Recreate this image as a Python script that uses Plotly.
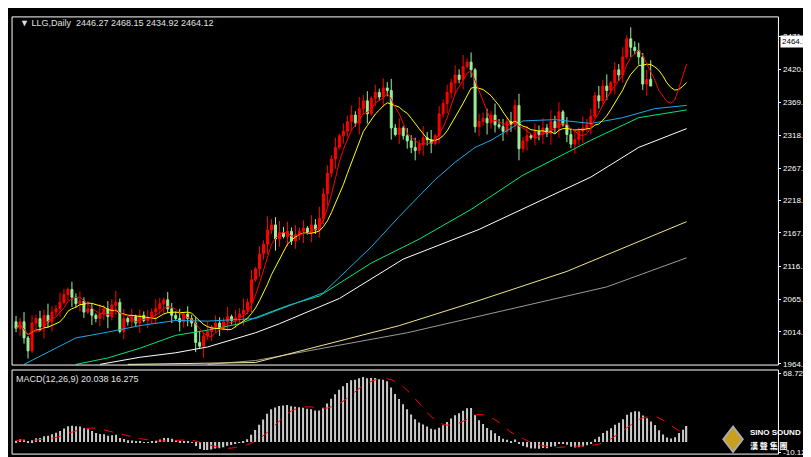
import plotly.graph_objects as go
import pandas as pd

closes = [2020,2030,2005,1985,2028, 2035,2022,2040,2030,2045, 2050,2060,2072,2080,2068,
          2058,2062,2045,2050,2040, 2035,2042,2050,2038,2056, 2060,2015,2035,2030,2038,
          2028,2040,2032,2036,2045, 2050,2058,2064,2050,2040, 2035,2030,2042,2035,2028,
          1998,1992,2008,2015,2022, 2028,2020,2030,2038,2032, 2036,2042,2048,2060,2095,
          2112,2135,2150,2172,2180, 2158,2168,2162,2170,2155, 2165,2170,2175,2168,2180,
          2172,2190,2228,2260,2282, 2300,2318,2325,2340,2350, 2338,2360,2372,2352,2376,
          2385,2378,2392,2388,2330, 2320,2330,2318,2310,2300, 2295,2305,2315,2312,2306,
          2318,2352,2368,2385,2400, 2412,2405,2425,2432,2420, 2332,2340,2345,2338,2350,
          2335,2332,2325,2340,2336, 2365,2298,2310,2318,2315, 2325,2320,2330,2322,2340,
          2330,2355,2335,2320,2305, 2312,2325,2330,2335,2348, 2380,2372,2395,2388,2400,
          2420,2412,2440,2468,2455, 2450,2440,2398,2405,2395, 2385,2360,2355,2362,2380,
          2408,2448,2446.27,2464.12]
first_open = 2030
wick_up = "3251424363253142524315243625141324253143251423625143251436251427346352524153634251435263514253625143526351424253625143526342536251435263514352634253614352634251635"
wick_dn = "2434152635241352431524362514232514363524153425162534152436251435264152436152436251435263514253615243526351425362514352634152436251435263514253625143526341524369"

ma30_x = [2, 15, 23, 31, 40, 48, 60, 77, 89, 96, 105, 110, 115, 119, 127, 135, 144, 152, 160, 168]
ma30_y = [1964, 2005, 2014, 2024, 2032, 2031, 2035, 2075, 2146, 2193, 2250, 2277, 2300, 2311, 2341, 2343, 2337, 2346, 2360, 2365]
ma60_x = [15, 23, 31, 40, 48, 56, 68, 76, 89, 101, 114, 127, 144, 156, 168]
ma60_y = [1964, 1974, 1989, 2009, 2017, 2027, 2055, 2070, 2121, 2158, 2204, 2257, 2311, 2346, 2358]
ma120_x = [21, 31, 40, 48, 60, 66, 81, 97, 116, 144, 156, 168]
ma120_y = [1964, 1975, 1982, 1991, 2013, 2027, 2066, 2127, 2173, 2254, 2300, 2329]
ma200_x = [28, 60, 96, 116, 138, 168]
ma200_y = [1964, 1967, 2024, 2063, 2108, 2185]
ma250_x = [48, 60, 98, 123, 148, 168]
ma250_y = [1964, 1970, 2013, 2049, 2084, 2129]

ytick_vals = [2471.70, 2420.70, 2369.70, 2318.70, 2267.70, 2218.20, 2167.70, 2116.20, 2065.20, 2014.20, 1964.70]

n = len(closes)
idx = list(range(n))
opens = [first_open] + closes[:-1]
opens[-1] = 2446.27
highs = [max(o, c) + int(w) * 3 for o, c, w in zip(opens, closes, wick_up[:n])]
lows = [min(o, c) - int(w) * 3 for o, c, w in zip(opens, closes, wick_dn[:n])]
highs[-1] = 2468.15
lows[-1] = 2434.92

s = pd.Series(closes, dtype=float)
ma5 = s.rolling(5, min_periods=1).mean()
ma10 = s.rolling(10, min_periods=1).mean()
ext = pd.Series([closes[0] - 15] * 30 + closes, dtype=float)
macd = (ext.ewm(span=12, adjust=False).mean() - ext.ewm(span=26, adjust=False).mean()).iloc[30:].reset_index(drop=True)
sig = macd.rolling(9, min_periods=1).mean()

fig = go.Figure()
for xs, ys, col in [(ma250_x, ma250_y, "#9a9a9a"), (ma200_x, ma200_y, "#f0e68c"),
                    (ma120_x, ma120_y, "#ffffff"), (ma60_x, ma60_y, "#00e676"),
                    (ma30_x, ma30_y, "#1fa8e8")]:
    fig.add_trace(go.Scatter(x=xs, y=ys, mode="lines", line=dict(color=col, width=1), hoverinfo="skip"))
fig.add_trace(go.Candlestick(x=idx, open=opens, high=highs, low=lows, close=closes,
                             increasing=dict(line=dict(color="#ff0000", width=1), fillcolor="#ff0000"),
                             decreasing=dict(line=dict(color="#98f098", width=1), fillcolor="#98f098"),
                             whiskerwidth=0))
fig.add_trace(go.Scatter(x=idx, y=ma10, mode="lines", line=dict(color="#ffff00", width=1)))
fig.add_trace(go.Scatter(x=idx, y=ma5, mode="lines", line=dict(color="#ff0000", width=1)))

fig.add_trace(go.Bar(x=idx, y=macd, marker=dict(color="#c8c8c8", line=dict(width=0)), width=0.3,
                     xaxis="x2", yaxis="y2"))
fig.add_trace(go.Scatter(x=idx, y=sig, mode="lines", line=dict(color="#ff0000", width=1, dash="dash"),
                         xaxis="x2", yaxis="y2"))

xr = [-1, 191]
tf = dict(size=8, color="white", family="Liberation Sans")
fig.update_layout(
    width=811, height=457, margin=dict(l=0, r=0, t=0, b=0),
    paper_bgcolor="black", plot_bgcolor="black", showlegend=False,
    font=dict(family="Liberation Sans", size=9, color="white"),
    xaxis=dict(domain=[0.005, 0.95], range=xr, showgrid=False, showticklabels=False, zeroline=False,
               rangeslider=dict(visible=False), anchor="y"),
    yaxis=dict(domain=[0.2123, 0.9825], range=[1963, 2502], side="right", tickvals=ytick_vals,
               ticktext=[f"{v:.2f}" for v in ytick_vals], showgrid=False, zeroline=False,
               ticks="outside", ticklen=2, tickcolor="white", tickfont=tf),
    xaxis2=dict(domain=[0.005, 0.95], range=xr, showgrid=False, showticklabels=False, zeroline=False,
                anchor="y2"),
    yaxis2=dict(domain=[0.0153, 0.2013], range=[-12, 72], side="right", tickvals=[68.723, -10.124],
                ticktext=["68.723", "-10.124"], showgrid=False, zeroline=False, ticks="outside", ticklen=2,
                tickcolor="white", tickfont=tf, anchor="x2"),
    shapes=[
        dict(type="rect", xref="paper", yref="paper", x0=0.005, x1=0.95, y0=0.2123, y1=0.9825,
             line=dict(color="white", width=1)),
        dict(type="rect", xref="paper", yref="paper", x0=0.005, x1=0.95, y0=0.0153, y1=0.2013,
             line=dict(color="white", width=1)),
        dict(type="path", xref="paper", yref="paper",
             path="M 0.882 0.048 L 0.894 0.076 L 0.906 0.048 L 0.894 0.02 Z",
             fillcolor="#c8a020", line=dict(color="#aaaaaa", width=2)),
    ],
    annotations=[
        dict(xref="paper", yref="paper", x=0.012, y=0.985, xanchor="left", yanchor="top", showarrow=False,
             text="▼ LLG,Daily  2446.27 2468.15 2434.92 2464.12", font=dict(size=9, color="#e0e0e0")),
        dict(xref="paper", yref="paper", x=0.008, y=0.197, xanchor="left", yanchor="top", showarrow=False,
             text="MACD(12,26,9) 20.038 16.275", font=dict(size=9, color="#e0e0e0")),
        dict(xref="paper", yref="y", x=0.952, y=2464.12, xanchor="left", yanchor="middle", showarrow=False,
             text="2464.12", bgcolor="white", font=dict(size=8, color="black"), borderpad=1),
        dict(xref="paper", yref="paper", x=0.913, y=0.062, xanchor="left", yanchor="middle", showarrow=False,
             text="<b>SINO SOUND</b>", font=dict(size=8, color="white")),
        dict(xref="paper", yref="paper", x=0.913, y=0.034, xanchor="left", yanchor="middle", showarrow=False,
             text="<b>漢 聲 集 團</b>", font=dict(size=8, color="white", family="Noto Sans CJK TC")),
    ],
)
fig.write_html("out.html")
